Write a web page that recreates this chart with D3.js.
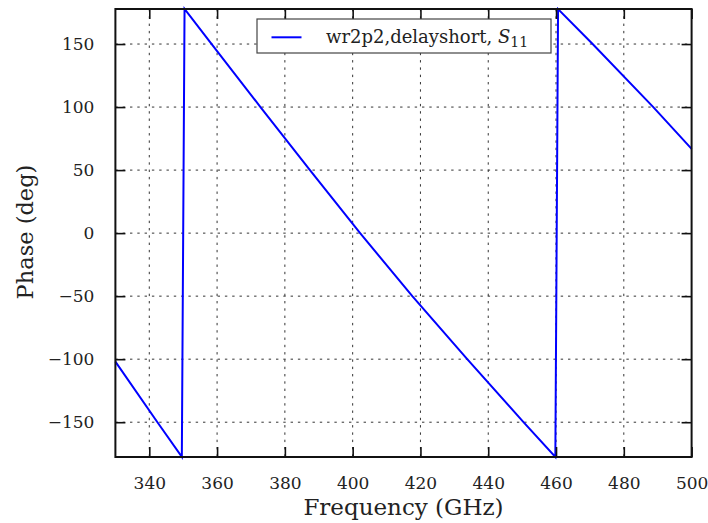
<!DOCTYPE html>
<html>
<head>
<meta charset="utf-8">
<script src="https://cdn.jsdelivr.net/npm/d3@7/dist/d3.min.js"></script>
<style>
  html, body { margin: 0; padding: 0; background: #fff; }
  svg { display: block; }
  text { font-family: "DejaVu Serif", serif; fill: #222; }
</style>
</head>
<body>
<svg id="chart" width="708" height="523"></svg>
<script>
// Measured S11 phase of the WR-2.2 delay short, wrapped to ±180°
const freqGHz = [330, 342.4, 349.6, 350.4, 358.4, 372.8, 387.4, 402.2, 417.6, 433.8, 450.4, 459.8, 460.6, 470.8, 488.7, 500];
const phaseDeg = [-101.9, -150, -177.5, 177.8, 150, 100, 50, 0, -50, -100, -150, -177.6, 177.7, 150, 100, 66.8];

const xTicks = [340, 360, 380, 400, 420, 440, 460, 480, 500];
const yTicks = [-150, -100, -50, 0, 50, 100, 150];

const seriesLabel = "wr2p2,delayshort, ";
const xTitle = "Frequency (GHz)";
const yTitle = "Phase (deg)";

const svg = d3.select("#chart");
const plotLeft = 115.4, plotRight = 691.6, plotTop = 9, plotBottom = 457;

const x = d3.scaleLinear().domain([330, 500]).range([plotLeft, plotRight]);
const y = d3.scaleLinear().domain([-177.6, 177.8]).range([plotBottom, plotTop]);

// dotted grid
const grid = svg.append("g").attr("stroke", "#333").attr("stroke-width", 1)
  .attr("stroke-dasharray", "2.4,4.9");
grid.selectAll(".gx").data(xTicks.filter(d => d < 500)).join("line")
  .attr("x1", d => x(d)).attr("x2", d => x(d)).attr("y1", plotTop).attr("y2", plotBottom);
grid.selectAll(".gy").data(yTicks).join("line")
  .attr("y1", d => y(d)).attr("y2", d => y(d)).attr("x1", plotLeft).attr("x2", plotRight);

// phase trace
const line = d3.line().x((d, i) => x(freqGHz[i])).y((d, i) => y(phaseDeg[i]));
svg.append("path").datum(phaseDeg)
  .attr("d", line).attr("fill", "none").attr("stroke", "#0000ff")
  .attr("stroke-width", 2).attr("stroke-linejoin", "miter");

// axes with inward ticks on all four sides
const tick = 10;
const styleAxis = g => {
  g.select(".domain").remove();
  g.selectAll(".tick line").attr("stroke", "#111").attr("stroke-width", 1.6);
  g.selectAll(".tick text").attr("font-size", 17).attr("fill", "#222")
    .attr("font-family", "DejaVu Serif, serif");
};
svg.append("g").attr("transform", `translate(0,${plotBottom})`)
  .call(d3.axisBottom(x).tickValues(xTicks).tickSize(-tick).tickPadding(tick + 10).tickFormat(d3.format("d")))
  .call(styleAxis);
svg.append("g").attr("transform", `translate(0,${plotTop})`)
  .call(d3.axisTop(x).tickValues(xTicks).tickSize(-tick).tickFormat(""))
  .call(styleAxis);
svg.append("g").attr("transform", `translate(${plotLeft},0)`)
  .call(d3.axisLeft(y).tickValues(yTicks).tickSize(-tick).tickPadding(tick + 11).tickFormat(d3.format("d")))
  .call(styleAxis);
svg.append("g").attr("transform", `translate(${plotRight},0)`)
  .call(d3.axisRight(y).tickValues(yTicks).tickSize(-tick).tickFormat(""))
  .call(styleAxis);

// frame
svg.append("rect").attr("x", plotLeft).attr("y", plotTop)
  .attr("width", plotRight - plotLeft).attr("height", plotBottom - plotTop)
  .attr("fill", "none").attr("stroke", "#111").attr("stroke-width", 2);

// axis titles
svg.append("text").attr("x", (plotLeft + plotRight) / 2).attr("y", 515)
  .attr("text-anchor", "middle").attr("font-size", 23).text(xTitle);
svg.append("text").attr("transform", "translate(33,232) rotate(-90)")
  .attr("text-anchor", "middle").attr("font-size", 22.5).text(yTitle);

// legend
const lg = svg.append("g");
lg.append("rect").attr("x", 257).attr("y", 19).attr("width", 294).attr("height", 34)
  .attr("fill", "#fff").attr("stroke", "#444").attr("stroke-width", 1.2);
lg.append("line").attr("x1", 271.5).attr("x2", 301.5).attr("y1", 37.3).attr("y2", 37.3)
  .attr("stroke", "#0000ff").attr("stroke-width", 2);
const lt = lg.append("text").attr("x", 326).attr("y", 43).attr("font-size", 18);
lt.append("tspan").text(seriesLabel);
lt.append("tspan").attr("font-style", "italic").text("S");
lt.append("tspan").attr("dy", 4).attr("font-size", 14).text("11");
</script>
</body>
</html>
